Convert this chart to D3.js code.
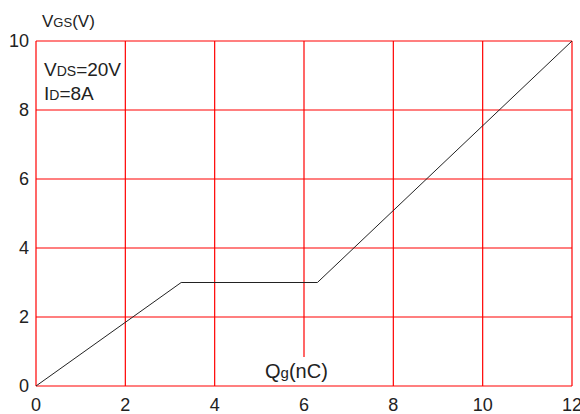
<!DOCTYPE html>
<html>
<head>
<meta charset="utf-8">
<script src="https://cdn.jsdelivr.net/npm/d3@7"></script>
<style>
  body { margin: 0; background: #fff; }
  text { font-family: "Liberation Sans", Arial, sans-serif; fill: #222; }
</style>
</head>
<body>
<div id="chart"></div>
<script>
// gate charge curve
const qg = [0, 3.25, 6.3, 12];
const vgs = [0, 3, 3, 10];
const xTicks = [0, 2, 4, 6, 8, 10, 12];
const yTicks = [0, 2, 4, 6, 8, 10];

const width = 580, height = 414;
const margin = { left: 36, right: 8, top: 41, bottom: 28 };

const svg = d3.select("#chart").append("svg")
  .attr("width", width)
  .attr("height", height);

const x = d3.scaleLinear().domain([0, 12]).range([margin.left, width - margin.right]);
const y = d3.scaleLinear().domain([0, 10]).range([height - margin.bottom, margin.top]);

// grid (x=6 line stops short of the Qg label)
svg.append("g").selectAll("line").data(xTicks).join("line")
  .attr("x1", d => x(d)).attr("x2", d => x(d))
  .attr("y1", y(10)).attr("y2", d => d === 6 ? 357 : y(0))
  .style("stroke", "#ff0000").style("stroke-width", 1.2);
svg.append("g").selectAll("line").data(yTicks).join("line")
  .attr("y1", d => y(d)).attr("y2", d => y(d))
  .attr("x1", x(0)).attr("x2", x(12))
  .style("stroke", "#ff0000").style("stroke-width", 1.2);

// curve
const line = d3.line().x((d, i) => x(qg[i])).y(d => y(d));
svg.append("path")
  .datum(vgs)
  .attr("d", line)
  .style("fill", "none")
  .style("stroke", "#222")
  .style("stroke-width", 1);

// tick labels
svg.append("g").selectAll("text").data(yTicks).join("text")
  .attr("x", 29).attr("y", d => y(d) + 6)
  .attr("text-anchor", "end")
  .attr("font-size", 18)
  .text(d => d);

svg.append("g").selectAll("text").data(xTicks).join("text")
  .attr("x", d => x(d)).attr("y", 411)
  .attr("text-anchor", "middle")
  .attr("font-size", 18)
  .text(d => d);

// axis titles
const yt = svg.append("text").attr("x", 42).attr("y", 27).attr("font-size", 17);
yt.append("tspan").text("V");
yt.append("tspan").attr("font-size", 13).text("GS");
yt.append("tspan").text("(V)");

const xt = svg.append("text").attr("x", 265).attr("y", 378).attr("font-size", 20);
xt.append("tspan").text("Q");
xt.append("tspan").attr("font-size", 15).text("g");
xt.append("tspan").text("(nC)");

// conditions
const c1 = svg.append("text").attr("x", 44).attr("y", 76).attr("font-size", 19);
c1.append("tspan").text("V");
c1.append("tspan").attr("font-size", 14).text("DS");
c1.append("tspan").text("=20V");

const c2 = svg.append("text").attr("x", 44).attr("y", 100).attr("font-size", 19);
c2.append("tspan").text("I");
c2.append("tspan").attr("font-size", 14).text("D");
c2.append("tspan").text("=8A");
</script>
</body>
</html>
